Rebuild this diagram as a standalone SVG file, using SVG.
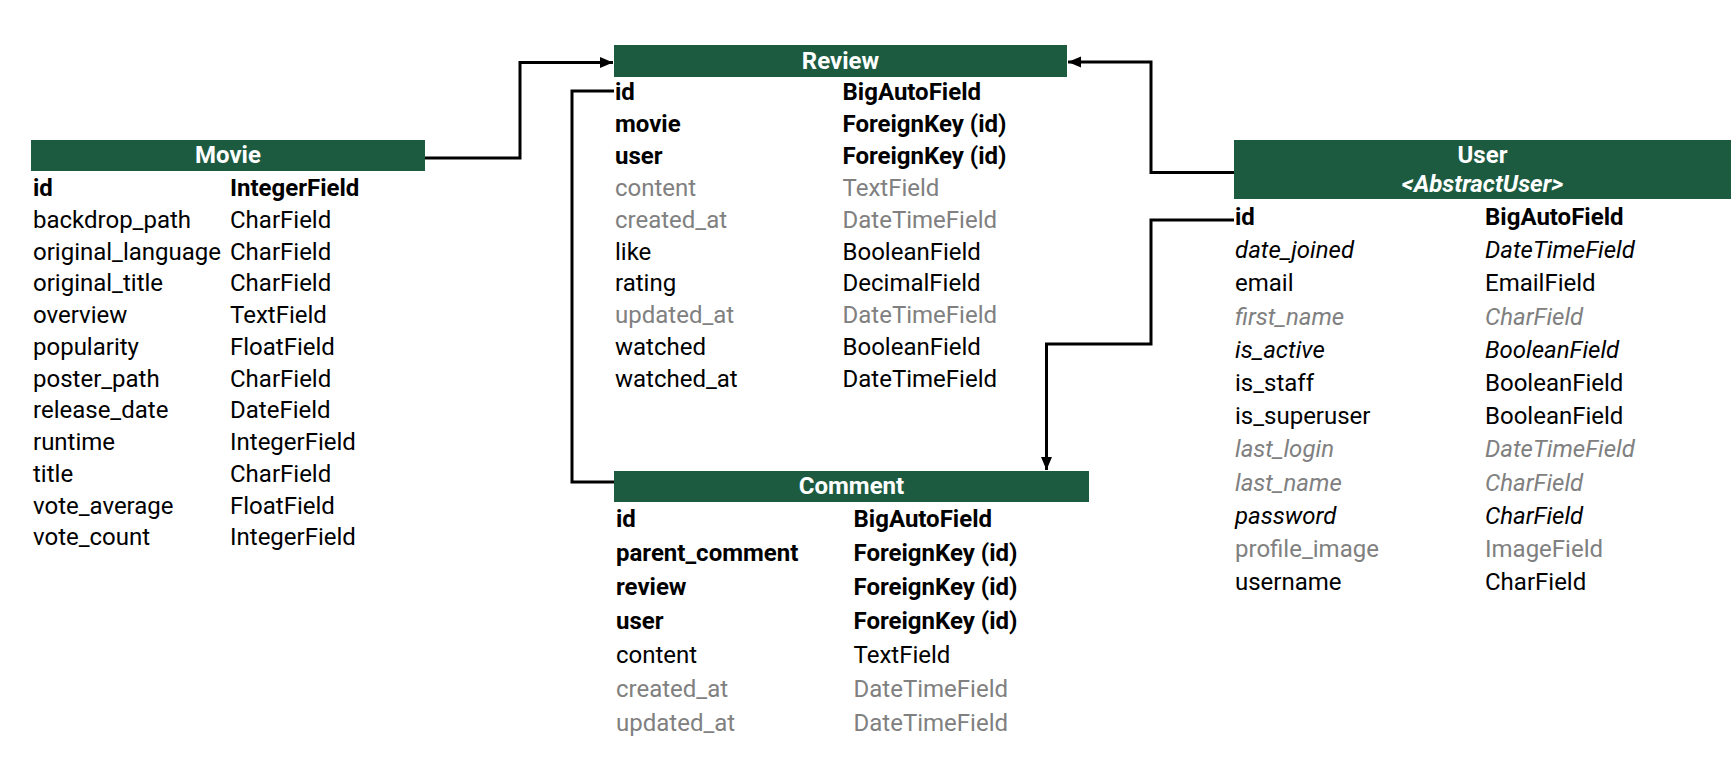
<svg xmlns="http://www.w3.org/2000/svg" width="1736" height="759" viewBox="0 0 1736 759">
<style>
.hdr{fill:#1d5b41}
.ht{font-family:Roboto,"Liberation Sans",sans-serif;font-weight:700;font-size:24px;fill:#ffffff;text-anchor:middle}
.t{font-family:Roboto,"Liberation Sans",sans-serif;font-size:24px;fill:#000000}
.b{font-weight:700}
.g{fill:#808080}
.i{font-style:italic}
.conn{fill:none;stroke:#000000;stroke-width:3}
</style>
<defs>
<marker id="arr" markerUnits="userSpaceOnUse" markerWidth="14" markerHeight="12" refX="13" refY="6" orient="auto">
<path d="M0,0.5 L13,6 L0,11.5 z" fill="#000000"/>
</marker>
</defs>
<rect width="1736" height="759" fill="#ffffff"/>
<g id="connectors">
<path class="conn" d="M425,158 H520 V62.5 H613" marker-end="url(#arr)"/>
<path class="conn" d="M1234,172.5 H1151 V62 H1068" marker-end="url(#arr)"/>
<path class="conn" d="M1234,220 H1151 V344 H1046.5 V470" marker-end="url(#arr)"/>
<path class="conn" d="M614,482 H572 V91 H614"/>
</g>
<g id="movie">
<rect class="hdr" x="31" y="140" width="394" height="31"/>
<text class="ht" x="228" y="163">Movie</text>
<text class="t b" x="33" y="196">id</text><text class="t b" x="230" y="196">IntegerField</text>
<text class="t" x="33" y="227.75">backdrop_path</text><text class="t" x="230" y="227.75">CharField</text>
<text class="t" x="33" y="259.5">original_language</text><text class="t" x="230" y="259.5">CharField</text>
<text class="t" x="33" y="291.25">original_title</text><text class="t" x="230" y="291.25">CharField</text>
<text class="t" x="33" y="323">overview</text><text class="t" x="230" y="323">TextField</text>
<text class="t" x="33" y="354.75">popularity</text><text class="t" x="230" y="354.75">FloatField</text>
<text class="t" x="33" y="386.5">poster_path</text><text class="t" x="230" y="386.5">CharField</text>
<text class="t" x="33" y="418.25">release_date</text><text class="t" x="230" y="418.25">DateField</text>
<text class="t" x="33" y="450">runtime</text><text class="t" x="230" y="450">IntegerField</text>
<text class="t" x="33" y="481.75">title</text><text class="t" x="230" y="481.75">CharField</text>
<text class="t" x="33" y="513.5">vote_average</text><text class="t" x="230" y="513.5">FloatField</text>
<text class="t" x="33" y="545.25">vote_count</text><text class="t" x="230" y="545.25">IntegerField</text>
</g>
<g id="review">
<rect class="hdr" x="614" y="45" width="453" height="32"/>
<text class="ht" x="840.5" y="69">Review</text>
<text class="t b" x="615" y="100">id</text><text class="t b" x="842.5" y="100">BigAutoField</text>
<text class="t b" x="615" y="131.9">movie</text><text class="t b" x="842.5" y="131.9">ForeignKey (id)</text>
<text class="t b" x="615" y="163.8">user</text><text class="t b" x="842.5" y="163.8">ForeignKey (id)</text>
<text class="t g" x="615" y="195.7">content</text><text class="t g" x="842.5" y="195.7">TextField</text>
<text class="t g" x="615" y="227.6">created_at</text><text class="t g" x="842.5" y="227.6">DateTimeField</text>
<text class="t" x="615" y="259.5">like</text><text class="t" x="842.5" y="259.5">BooleanField</text>
<text class="t" x="615" y="291.4">rating</text><text class="t" x="842.5" y="291.4">DecimalField</text>
<text class="t g" x="615" y="323.3">updated_at</text><text class="t g" x="842.5" y="323.3">DateTimeField</text>
<text class="t" x="615" y="355.2">watched</text><text class="t" x="842.5" y="355.2">BooleanField</text>
<text class="t" x="615" y="387.1">watched_at</text><text class="t" x="842.5" y="387.1">DateTimeField</text>
</g>
<g id="comment">
<rect class="hdr" x="614" y="471" width="475" height="31"/>
<text class="ht" x="851.5" y="494">Comment</text>
<text class="t b" x="616" y="527">id</text><text class="t b" x="853.5" y="527">BigAutoField</text>
<text class="t b" x="616" y="561">parent_comment</text><text class="t b" x="853.5" y="561">ForeignKey (id)</text>
<text class="t b" x="616" y="595">review</text><text class="t b" x="853.5" y="595">ForeignKey (id)</text>
<text class="t b" x="616" y="629">user</text><text class="t b" x="853.5" y="629">ForeignKey (id)</text>
<text class="t" x="616" y="663">content</text><text class="t" x="853.5" y="663">TextField</text>
<text class="t g" x="616" y="697">created_at</text><text class="t g" x="853.5" y="697">DateTimeField</text>
<text class="t g" x="616" y="731">updated_at</text><text class="t g" x="853.5" y="731">DateTimeField</text>
</g>
<g id="user">
<rect class="hdr" x="1234" y="140" width="497" height="59"/>
<text class="ht" x="1482.5" y="163">User</text>
<text class="ht i" x="1482.5" y="191.5">&lt;AbstractUser&gt;</text>
<text class="t b" x="1235" y="225">id</text><text class="t b" x="1485" y="225">BigAutoField</text>
<text class="t i" x="1235" y="258.2">date_joined</text><text class="t i" x="1485" y="258.2">DateTimeField</text>
<text class="t" x="1235" y="291.4">email</text><text class="t" x="1485" y="291.4">EmailField</text>
<text class="t i g" x="1235" y="324.6">first_name</text><text class="t i g" x="1485" y="324.6">CharField</text>
<text class="t i" x="1235" y="357.8">is_active</text><text class="t i" x="1485" y="357.8">BooleanField</text>
<text class="t" x="1235" y="391">is_staff</text><text class="t" x="1485" y="391">BooleanField</text>
<text class="t" x="1235" y="424.2">is_superuser</text><text class="t" x="1485" y="424.2">BooleanField</text>
<text class="t i g" x="1235" y="457.4">last_login</text><text class="t i g" x="1485" y="457.4">DateTimeField</text>
<text class="t i g" x="1235" y="490.6">last_name</text><text class="t i g" x="1485" y="490.6">CharField</text>
<text class="t i" x="1235" y="523.8">password</text><text class="t i" x="1485" y="523.8">CharField</text>
<text class="t g" x="1235" y="557">profile_image</text><text class="t g" x="1485" y="557">ImageField</text>
<text class="t" x="1235" y="590.2">username</text><text class="t" x="1485" y="590.2">CharField</text>
</g>
</svg>
